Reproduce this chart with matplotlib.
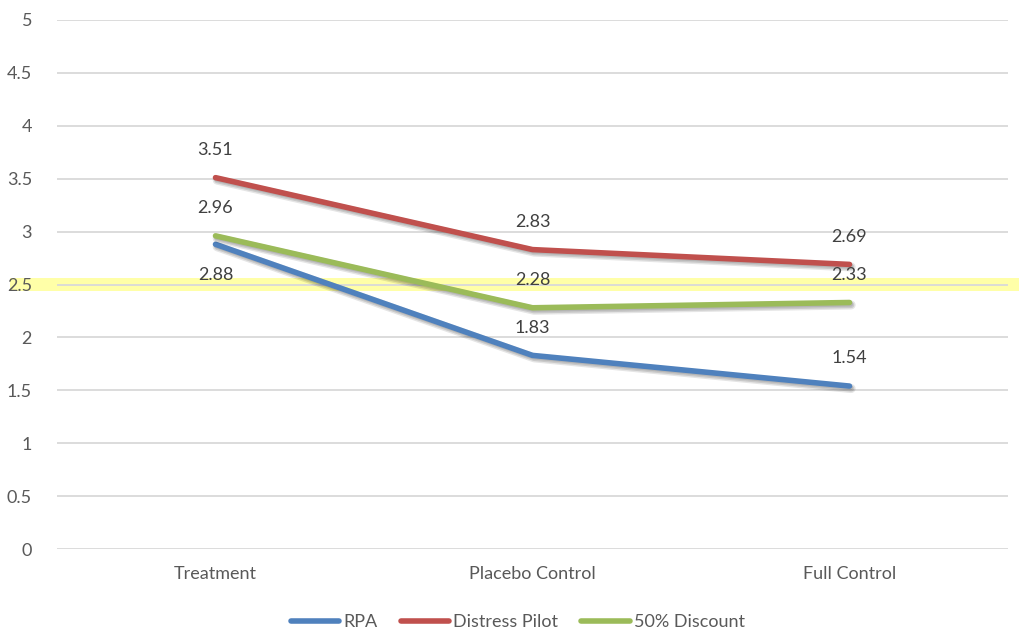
import matplotlib
matplotlib.use("Agg")
import matplotlib.pyplot as plt
import matplotlib.patheffects as pe
from matplotlib.patches import Rectangle
from matplotlib.transforms import blended_transform_factory

categories = ["Treatment", "Placebo Control", "Full Control"]
rpa = [2.88, 1.83, 1.54]
distress_pilot = [3.51, 2.83, 2.69]
discount_50 = [2.96, 2.28, 2.33]
y_ticks = [0, 0.5, 1, 1.5, 2, 2.5, 3, 3.5, 4, 4.5, 5]
y_tick_labels = ["0", "0.5", "1", "1.5", "2", "2.5", "3", "3.5", "4", "4.5", "5"]
highlight_level = 2.5

plt.rcParams["font.family"] = ["Lato", "DejaVu Sans"]
text_color = "#595959"

fig = plt.figure(figsize=(10.19, 6.32), dpi=100)
ax = fig.add_axes([57 / 1019, 1 - 549 / 632, (1008 - 57) / 1019, (549 - 20) / 632])

x = list(range(len(categories)))
series = [
    ("RPA", rpa, "#4F81BD", ["below", "above", "above"]),
    ("Distress Pilot", distress_pilot, "#C0504D", ["above", "above", "above"]),
    ("50% Discount", discount_50, "#9BBB59", ["above", "above", "above"]),
]

# soft drop shadow built from a few faint offset strokes
shadow = [
    pe.SimpleLineShadow(offset=(1.2, -1.8), shadow_color="#000000", alpha=0.10, linewidth=6.5),
    pe.SimpleLineShadow(offset=(1.2, -1.8), shadow_color="#000000", alpha=0.12, linewidth=4.5),
    pe.SimpleLineShadow(offset=(0.8, -1.2), shadow_color="#000000", alpha=0.10, linewidth=3.5),
    pe.Normal(),
]

for name, vals, color, positions in series:
    ax.plot(x, vals, color=color, lw=4.0, solid_capstyle="round", label=name,
            path_effects=shadow, zorder=3)
    for xi, v, pos in zip(x, vals, positions):
        dy = 20 if pos == "above" else -22
        ax.annotate(f"{v:.2f}", (xi, v), xytext=(0, dy), textcoords="offset points",
                    ha="center", va="center", fontsize=13, color="#404040", zorder=4)

ax.set_xlim(-0.5, len(categories) - 0.5)
ax.set_ylim(0, 5)
ax.set_yticks(y_ticks)
ax.set_yticklabels(y_tick_labels)
ax.set_xticks(x)
ax.set_xticklabels(categories)
ax.tick_params(axis="both", length=0, labelsize=13, colors=text_color)
ax.tick_params(axis="y", pad=18)
ax.tick_params(axis="x", pad=12)
for lbl in ax.get_yticklabels():
    lbl.set_horizontalalignment("right")
ax.grid(axis="y", color="#D9D9D9", lw=1.3)
ax.set_axisbelow(True)
for s in ax.spines.values():
    s.set_visible(False)

# highlight band across the whole figure width at the reference level
trans = blended_transform_factory(fig.transFigure, ax.transData)
band = Rectangle((10 / 1019, highlight_level - 0.066), 1 - 10 / 1019, 0.132,
                 transform=trans, facecolor="#FFFF99", edgecolor="none",
                 clip_on=False, zorder=0.4, alpha=0.85)
ax.add_patch(band)

leg = fig.legend(loc="center", bbox_to_anchor=(0.508, 1 - 622 / 632), ncol=3, frameon=False,
                 fontsize=13, handlelength=2.7, handletextpad=0.2, columnspacing=1.3,
                 borderaxespad=0, borderpad=0)
for t in leg.get_texts():
    t.set_color(text_color)
for h in leg.get_lines():
    h.set_path_effects([pe.Normal()])
    h.set_linewidth(4.0)
    h.set_solid_capstyle("round")

fig.savefig("out.png", dpi=100, facecolor="white")
